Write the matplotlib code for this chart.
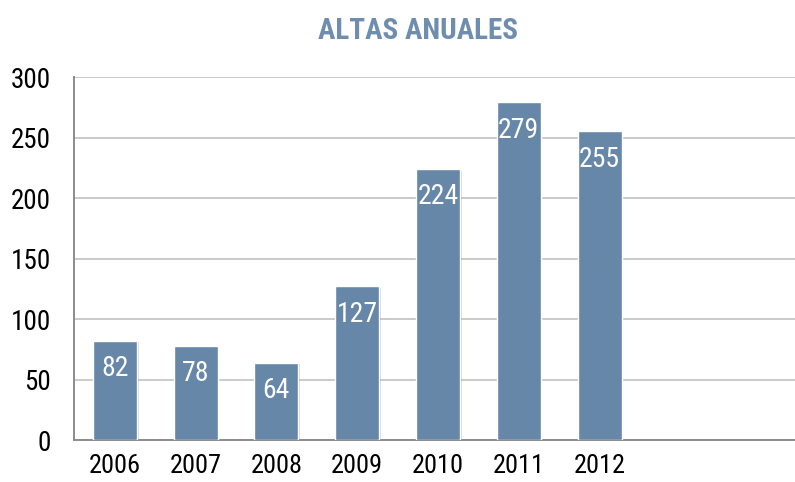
import matplotlib
matplotlib.use('Agg')
import matplotlib.pyplot as plt
import matplotlib.patheffects as pe

plt.rcParams['font.family'] = ['Roboto Condensed', 'DejaVu Sans']

# data
years = ['2006', '2007', '2008', '2009', '2010', '2011', '2012', '', '']
altas = [82, 78, 64, 127, 224, 279, 255, None, None]
y_ticks = [0, 50, 100, 150, 200, 250, 300]

BAR_COLOR = '#6787A8'
TITLE_COLOR = '#6F8EAF'

fig = plt.figure(figsize=(7.95, 4.82), dpi=100)
ax = fig.add_axes([0.0937, 0.0871, 0.9063, 0.7531])

xs = [i for i, v in enumerate(altas) if v is not None]
vals = [v for v in altas if v is not None]
ax.bar(xs, vals, width=0.545, color=BAR_COLOR, edgecolor='white',
       linewidth=1.0, zorder=3,
       path_effects=[pe.SimplePatchShadow(offset=(1.2, -1.2), alpha=0.18),
                     pe.Normal()])

for x, v in zip(xs, vals):
    ax.annotate(str(v), (x, v), xytext=(0, -20), textcoords='offset points',
                ha='center', va='center', color='white', fontsize=20,
                fontweight='normal', zorder=4)

ax.set_xlim(-0.5, 8.42)
ax.set_ylim(0, 300)
ax.set_yticks(y_ticks)
ax.set_xticks(range(len(years)))
ax.set_xticklabels(years)
ax.tick_params(axis='both', length=0, labelsize=19.5, colors='black')
ax.tick_params(axis='x', pad=10, labelsize=19)
ax.tick_params(axis='y', pad=17)

ax.grid(axis='y', color='#C6C6C6', linewidth=1.3, zorder=0)
ax.set_axisbelow(True)
for s in ('top', 'right'):
    ax.spines[s].set_visible(False)
for s in ('left', 'bottom'):
    ax.spines[s].set_color('#8C8C8C')
    ax.spines[s].set_linewidth(1.4)

fig.text(0.526, 0.935, 'ALTAS ANUALES', ha='center', va='center',
         fontsize=21, fontweight='bold', color=TITLE_COLOR)

fig.savefig('out.png', dpi=100)
